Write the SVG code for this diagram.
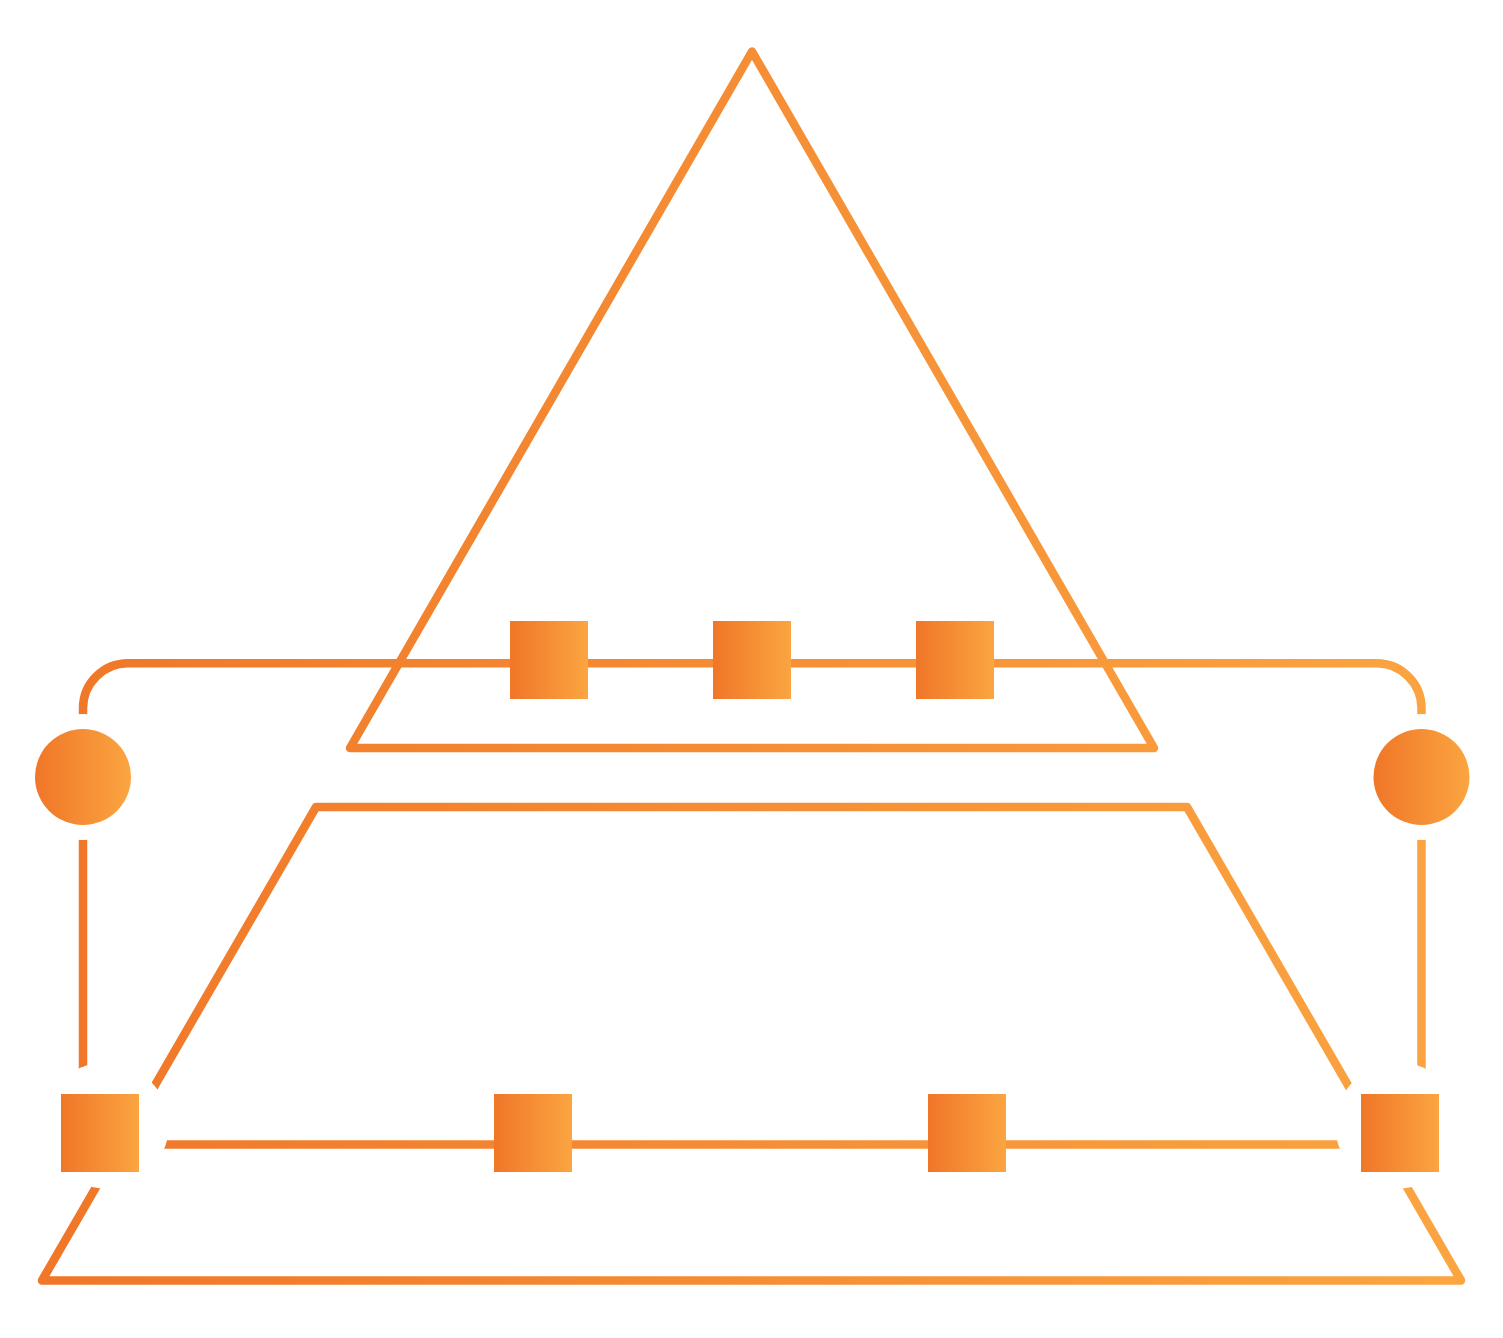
<svg xmlns="http://www.w3.org/2000/svg" width="1503" height="1338" viewBox="0 0 1503 1338">
  <style>
    .ln { fill: none; stroke: url(#gLine); stroke-width: 8.5; stroke-linejoin: round; stroke-linecap: butt; }
    .nd { fill: url(#gNode); }
  </style>
  <defs>
    <linearGradient id="gLine" gradientUnits="userSpaceOnUse" x1="35" y1="0" x2="1470" y2="0">
      <stop offset="0" stop-color="#F07628"/>
      <stop offset="1" stop-color="#FBA541"/>
    </linearGradient>
    <linearGradient id="gNode" x1="0" y1="0" x2="1" y2="0">
      <stop offset="0" stop-color="#F07628"/>
      <stop offset="1" stop-color="#FBA541"/>
    </linearGradient>
    <mask id="cut" maskUnits="userSpaceOnUse" x="0" y="0" width="1503" height="1338">
      <rect x="0" y="0" width="1503" height="1338" fill="#fff"/>
      <circle cx="83" cy="777" r="63" fill="#000"/>
      <circle cx="1421.5" cy="777" r="63" fill="#000"/>
      <circle cx="105.7" cy="1125.5" r="63" fill="#000"/>
      <circle cx="1398.3" cy="1125.5" r="63" fill="#000"/>
    </mask>
  </defs>
  <rect x="0" y="0" width="1503" height="1338" fill="#ffffff"/>

  <g id="connectors" mask="url(#cut)">
    <polygon id="triangle" class="ln" points="752,51.5 1154,748 350,748"/>
    <polygon id="trapezoid" class="ln" points="316,807 1187,807 1461,1280.5 42,1280.5"/>
    <path id="top-link" class="ln" d="M83,760 V708 A45,45 0 0 1 128,663.3 H1376.5 A45,45 0 0 1 1421.5,708 V760"/>
    <line id="left-link" class="ln" x1="83" y1="790" x2="83" y2="1130"/>
    <line id="right-link" class="ln" x1="1421.5" y1="790" x2="1421.5" y2="1130"/>
    <line id="bottom-link" class="ln" x1="100" y1="1144.5" x2="1400" y2="1144.5"/>
  </g>

  <g id="node-circle-left"><circle class="nd" cx="83" cy="777" r="48"/></g>
  <g id="node-circle-right"><circle class="nd" cx="1421.5" cy="777" r="48"/></g>

  <g id="node-top-1"><rect class="nd" x="510" y="621" width="78" height="78"/></g>
  <g id="node-top-2"><rect class="nd" x="713" y="621" width="78" height="78"/></g>
  <g id="node-top-3"><rect class="nd" x="916" y="621" width="78" height="78"/></g>

  <g id="node-bottom-1"><rect class="nd" x="61" y="1094" width="78" height="78"/></g>
  <g id="node-bottom-2"><rect class="nd" x="494" y="1094" width="78" height="78"/></g>
  <g id="node-bottom-3"><rect class="nd" x="928" y="1094" width="78" height="78"/></g>
  <g id="node-bottom-4"><rect class="nd" x="1361" y="1094" width="78" height="78"/></g>
</svg>
